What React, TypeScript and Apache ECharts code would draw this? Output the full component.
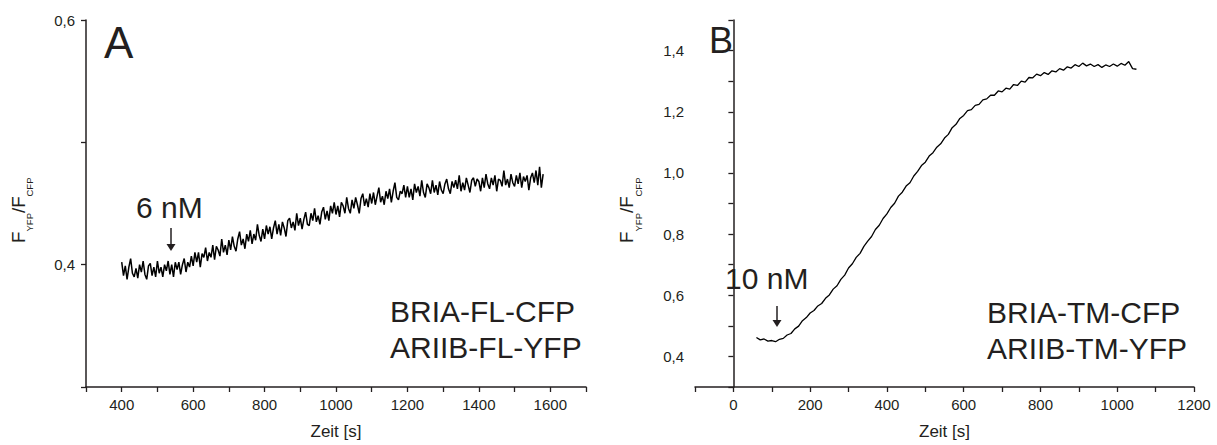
import React, { useEffect, useRef } from "react";
import * as echarts from "echarts";

// Panel A: BRIA-FL-CFP / ARIIB-FL-YFP, sampled every 5 s from 400 s
const aStart = 400;
const aStep = 5;
const aValues = [
  0.402, 0.391, 0.399, 0.388, 0.398, 0.405, 0.393, 0.390, 0.397, 0.389, 0.400, 0.394, 0.403, 0.392, 0.388, 0.399, 0.401, 0.391, 0.398, 0.390,
  0.403, 0.393, 0.398, 0.390, 0.400, 0.395, 0.403, 0.392, 0.400, 0.390, 0.402, 0.396, 0.402, 0.392, 0.400, 0.405, 0.394, 0.402, 0.398, 0.407,
  0.399, 0.410, 0.402, 0.410, 0.398, 0.409, 0.406, 0.414, 0.403, 0.410, 0.406, 0.416, 0.404, 0.415, 0.412, 0.407, 0.421, 0.410, 0.416, 0.408,
  0.420, 0.412, 0.423, 0.415, 0.411, 0.421, 0.427, 0.416, 0.421, 0.413, 0.425, 0.419, 0.428, 0.417, 0.425, 0.420, 0.433, 0.424, 0.419, 0.429,
  0.421, 0.432, 0.425, 0.431, 0.421, 0.430, 0.436, 0.425, 0.433, 0.424, 0.435, 0.430, 0.423, 0.436, 0.438, 0.430, 0.435, 0.428, 0.442, 0.432,
  0.438, 0.429, 0.437, 0.443, 0.433, 0.432, 0.442, 0.436, 0.446, 0.435, 0.440, 0.433, 0.443, 0.447, 0.437, 0.444, 0.436, 0.448, 0.442, 0.451,
  0.441, 0.448, 0.439, 0.451, 0.448, 0.442, 0.455, 0.446, 0.442, 0.453, 0.446, 0.455, 0.449, 0.442, 0.454, 0.458, 0.448, 0.454, 0.447, 0.458,
  0.450, 0.459, 0.449, 0.456, 0.463, 0.451, 0.456, 0.449, 0.460, 0.454, 0.462, 0.451, 0.460, 0.467, 0.455, 0.453, 0.460, 0.458, 0.465, 0.455,
  0.464, 0.455, 0.462, 0.453, 0.466, 0.459, 0.464, 0.456, 0.469, 0.459, 0.455, 0.466, 0.463, 0.458, 0.469, 0.459, 0.465, 0.457, 0.468, 0.461,
  0.458, 0.466, 0.470, 0.462, 0.458, 0.468, 0.463, 0.469, 0.462, 0.473, 0.460, 0.467, 0.461, 0.471, 0.465, 0.459, 0.469, 0.471, 0.464, 0.470,
  0.468, 0.460, 0.471, 0.463, 0.474, 0.466, 0.462, 0.471, 0.465, 0.473, 0.460, 0.470, 0.469, 0.464, 0.477, 0.465, 0.470, 0.463, 0.474, 0.467,
  0.464, 0.473, 0.466, 0.475, 0.463, 0.472, 0.468, 0.473, 0.461, 0.471, 0.475, 0.467, 0.477, 0.465, 0.480, 0.463, 0.474,
];

// Panel B: BRIA-TM-CFP / ARIIB-TM-YFP, sampled every 10 s from 60 s
const bStart = 60;
const bStep = 10;
const bValues = [
  0.462, 0.454, 0.457, 0.450, 0.452, 0.448, 0.456, 0.459, 0.470, 0.475,
  0.490, 0.499, 0.517, 0.527, 0.542, 0.550, 0.565, 0.573, 0.590, 0.601,
  0.620, 0.631, 0.652, 0.666, 0.689, 0.703, 0.724, 0.737, 0.760, 0.777,
  0.792, 0.815, 0.829, 0.851, 0.866, 0.887, 0.901, 0.924, 0.937, 0.957,
  0.968, 0.990, 1.005, 1.024, 1.035, 1.055, 1.066, 1.084, 1.095, 1.114,
  1.126, 1.148, 1.159, 1.178, 1.188, 1.204, 1.207, 1.221, 1.224, 1.239,
  1.242, 1.254, 1.254, 1.268, 1.265, 1.277, 1.274, 1.289, 1.286, 1.300,
  1.297, 1.312, 1.311, 1.323, 1.318, 1.328, 1.322, 1.334, 1.330, 1.341,
  1.336, 1.347, 1.343, 1.354, 1.348, 1.359, 1.350, 1.356, 1.348, 1.354,
  1.345, 1.353, 1.348, 1.356, 1.349, 1.358, 1.352, 1.364, 1.341, 1.339,
];

// Tick labels
const aXLabels = [400, 600, 800, 1000, 1200, 1400, 1600];
const aYLabels = [0.4, 0.6];
const bXLabels = [0, 200, 400, 600, 800, 1000, 1200];
const bYLabels = [0.4, 0.6, 0.8, 1.0, 1.2, 1.4];

const FONT = "'Liberation Sans', Arial, Helvetica, sans-serif";
const INK = "#231f20";

const toPairs = (start: number, step: number, vals: number[]) =>
  vals.map((v, i) => [start + i * step, v]);

const fmtY = (labels: number[]) => (v: number) => {
  const k = Math.round(v * 10);
  return labels.some((l) => Math.round(l * 10) === k) ? (k / 10).toFixed(1).replace(".", ",") : "";
};
const fmtX = (labels: number[]) => (v: number) =>
  labels.some((l) => Math.abs(l - v) < 1e-6) ? String(Math.round(v)) : "";

const axisCommon = {
  axisLine: { show: true, lineStyle: { color: INK, width: 1.5 } },
  axisTick: { show: true, inside: false, length: 5, lineStyle: { color: INK, width: 1.3 } },
  splitLine: { show: false },
};

const xAxisFor = (gridIndex: number, min: number, max: number, labels: number[]) => ({
  type: "value",
  gridIndex,
  min,
  max,
  interval: 100,
  name: "Zeit [s]",
  nameLocation: "middle",
  nameGap: 36,
  nameTextStyle: { fontFamily: FONT, fontSize: 17, color: INK },
  ...axisCommon,
  axisLabel: {
    show: true,
    margin: 10,
    fontFamily: FONT,
    fontSize: 15,
    color: INK,
    showMinLabel: true,
    showMaxLabel: true,
    formatter: fmtX(labels),
  },
});

const yAxisFor = (gridIndex: number, min: number, max: number, labels: number[]) => ({
  type: "value",
  gridIndex,
  min,
  max,
  interval: 0.1,
  ...axisCommon,
  axisLabel: {
    show: true,
    margin: 11,
    fontFamily: FONT,
    fontSize: 15,
    color: INK,
    showMinLabel: true,
    showMaxLabel: true,
    formatter: fmtY(labels),
  },
});

// rotated axis title F_YFP / F_CFP, built from pieces in a rotated group
const piece = (text: string, x: number, y: number, size: number) => ({
  type: "text",
  x,
  y,
  style: { text, fill: INK, fontFamily: FONT, fontSize: size, align: "left", verticalAlign: "middle" },
});
const yName = (x: number, y: number) => ({
  type: "group",
  x,
  y,
  rotation: Math.PI / 2,
  children: [
    piece("F", -32, 0, 19),
    piece("YFP", -20.5, 11.5, 9.5),
    piece("/F", -2, 0, 19),
    piece("CFP", 14.5, 11.5, 9.5),
  ],
});

const label = (text: string, x: number, y: number, size: number) => ({
  type: "text",
  x,
  y,
  style: { text, fill: INK, fontFamily: FONT, fontSize: size, align: "left", verticalAlign: "middle" },
});

const arrow = (x: number, top: number, tip: number) => [
  {
    type: "line",
    shape: { x1: x, y1: top, x2: x, y2: tip - 5 },
    style: { stroke: INK, lineWidth: 1.5 },
  },
  {
    type: "polygon",
    shape: { points: [[x - 4.5, tip - 7], [x + 4.5, tip - 7], [x, tip]] },
    style: { fill: INK },
  },
];

export default function App() {
  const ref = useRef<HTMLDivElement>(null);

  useEffect(() => {
    if (!ref.current) return;
    const chart = echarts.init(ref.current, undefined, { renderer: "svg" });
    chart.setOption({
      animation: false,
      backgroundColor: "#ffffff",
      textStyle: { fontFamily: FONT },
      grid: [
        { left: 86, top: 20, width: 500, height: 368, containLabel: false },
        { left: 695, top: 20, width: 499, height: 368, containLabel: false },
      ],
      xAxis: [xAxisFor(0, 300, 1700, aXLabels), xAxisFor(1, -100, 1200, bXLabels)],
      yAxis: [yAxisFor(0, 0.3, 0.6, aYLabels), yAxisFor(1, 0.3, 1.5, bYLabels)],
      series: [
        {
          type: "line",
          xAxisIndex: 0,
          yAxisIndex: 0,
          data: toPairs(aStart, aStep, aValues),
          showSymbol: false,
          symbol: "none",
          lineStyle: { color: "#000", width: 1.5 },
          silent: true,
        },
        {
          type: "line",
          xAxisIndex: 1,
          yAxisIndex: 1,
          data: toPairs(bStart, bStep, bValues),
          showSymbol: false,
          symbol: "none",
          lineStyle: { color: "#000", width: 1.3 },
          silent: true,
        },
      ],
      graphic: [
        yName(18.4, 211),
        yName(626.7, 211),
        label("A", 104, 42, 44),
        label("B", 709, 40, 36),
        label("6 nM", 136, 207, 30),
        label("10 nM", 725, 278, 30),
        ...arrow(171, 228, 251),
        ...arrow(777, 306, 327),
        label("BRIA-FL-CFP", 390, 311, 30),
        label("ARIIB-FL-YFP", 390, 347, 30),
        label("BRIA-TM-CFP", 987, 312, 30),
        label("ARIIB-TM-YFP", 987, 348, 30),
      ],
    });
    return () => chart.dispose();
  }, []);

  return (
    <div
      ref={ref}
      style={{ position: "fixed", left: 0, top: 0, width: 1217, height: 445, background: "#fff" }}
    />
  );
}
